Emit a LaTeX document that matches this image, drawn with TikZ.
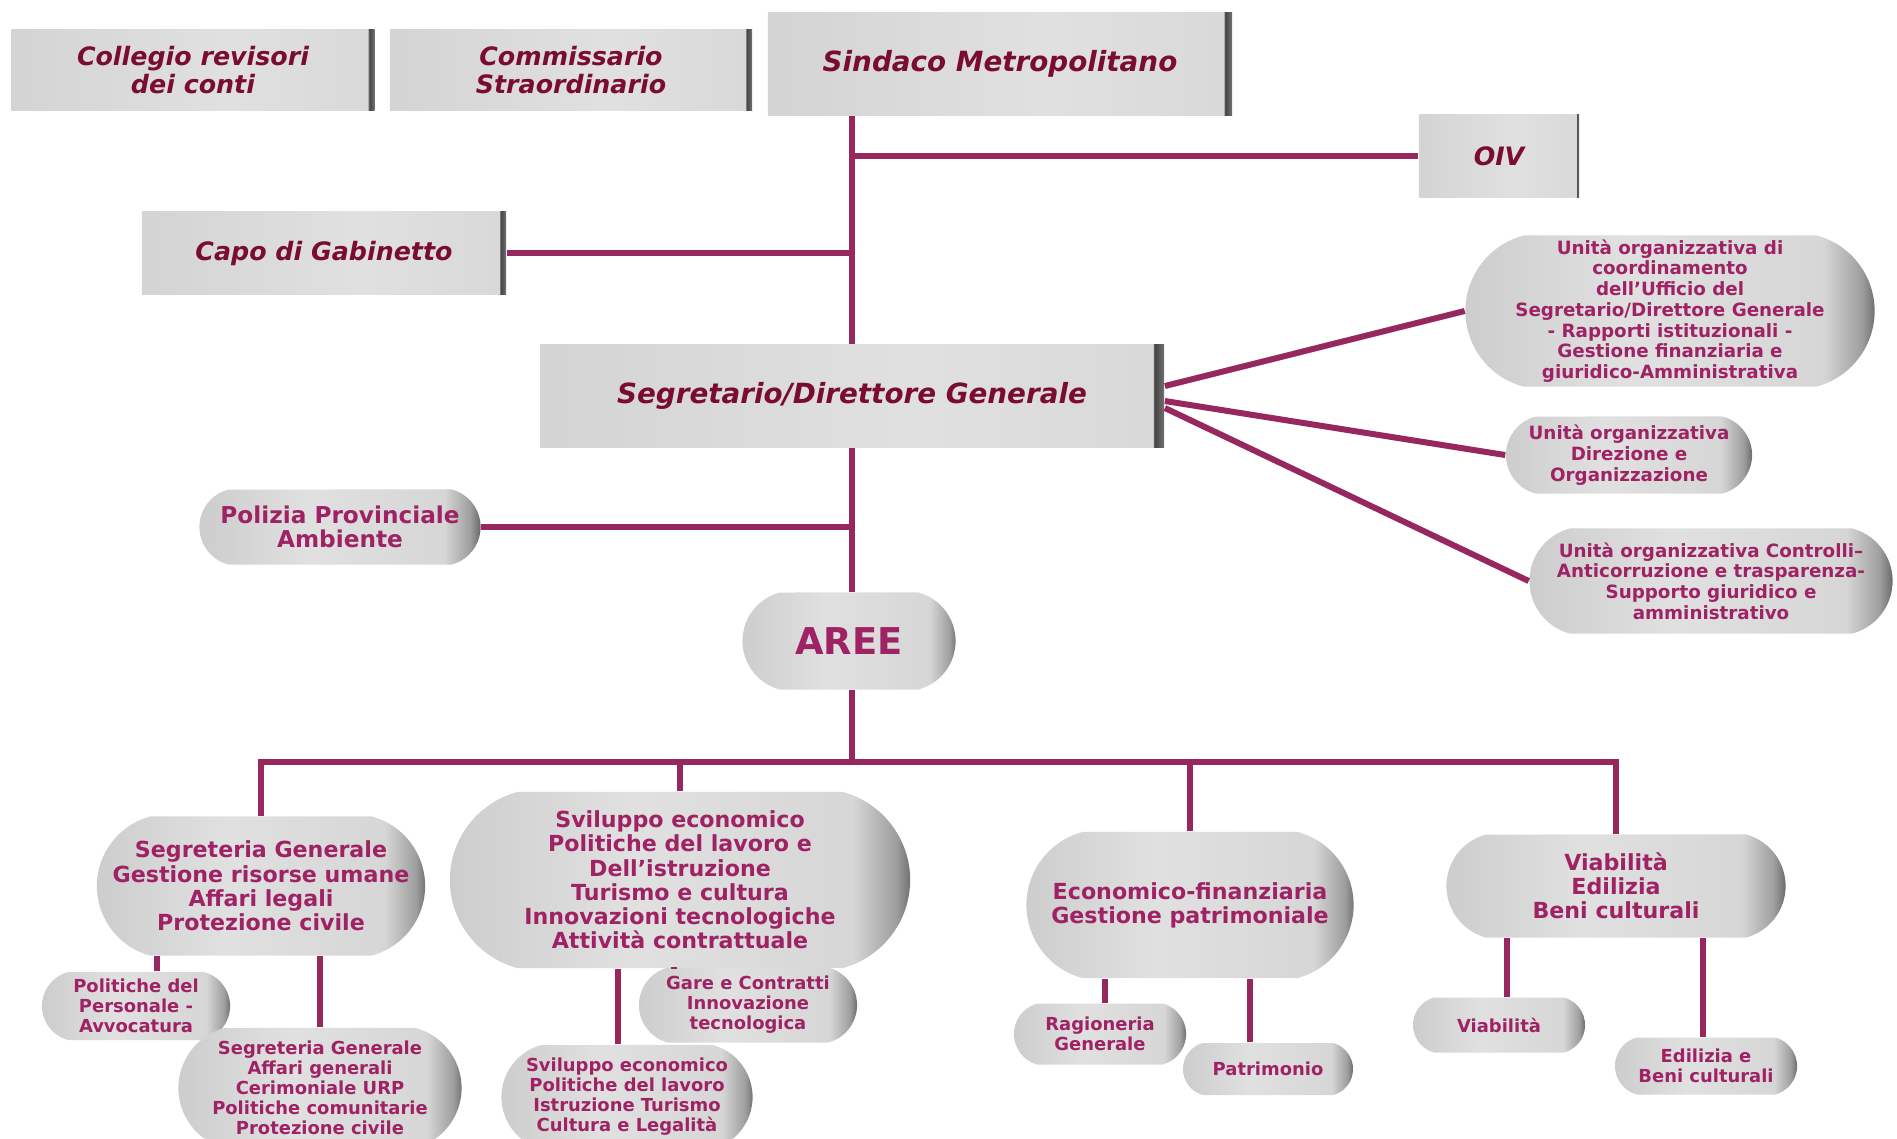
\documentclass[tikz,border=0pt]{standalone}
\usepackage{fontspec}
\setmainfont{DejaVu Sans}
\usetikzlibrary{positioning}
\usetikzlibrary{shapes.misc}
\usetikzlibrary{calc}

\definecolor{linecol}{RGB}{150,40,95}
\definecolor{boxtxt}{RGB}{122,12,48}
\definecolor{pilltxt}{RGB}{158,34,100}

\pgfdeclarehorizontalshading{boxshade}{100bp}{rgb(0bp)=(.83,.83,.83); rgb(25bp)=(.83,.83,.83); rgb(55bp)=(.88,.88,.88); rgb(74.1bp)=(.85,.85,.85); rgb(74.2bp)=(.25,.25,.25); rgb(75bp)=(.45,.45,.45); rgb(100bp)=(.45,.45,.45)}
\pgfdeclarehorizontalshading{pillshade}{100bp}{rgb(0bp)=(.80,.80,.80); rgb(25bp)=(.80,.80,.80); rgb(45bp)=(.88,.88,.88); rgb(68bp)=(.84,.84,.84); rgb(72.5bp)=(.62,.62,.62); rgb(75bp)=(.32,.32,.32); rgb(100bp)=(.32,.32,.32)}

\tikzstyle{boxnode}=[rectangle,shade,shading=boxshade,text=boxtxt,inner sep=0pt,align=center,font=\fontsize{7.2}{8.2}\selectfont\bfseries\itshape]
\tikzstyle{bigbox}=[font=\fontsize{7.9}{9}\selectfont\bfseries\itshape]
\tikzstyle{pillnode}=[rounded rectangle,rounded rectangle arc length=150,shade,shading=pillshade,text=pilltxt,inner sep=0pt,align=center]
\tikzstyle{unitpill}=[pillnode,font=\fontsize{5.2}{5.9}\selectfont\bfseries]
\tikzstyle{areapill}=[pillnode,font=\fontsize{6.3}{6.9}\selectfont\bfseries]
\tikzstyle{subpill}=[pillnode,font=\fontsize{5.1}{5.7}\selectfont\bfseries]
\tikzstyle{conn}=[draw=linecol,line width=0.6mm]

\begin{document}
\begin{tikzpicture}[x=0.01cm,y=-0.01cm]
  \useasboundingbox (0,0) rectangle (1897,1138);
  \clip (0,0) rectangle (1897,1138);

  % boxes
  \foreach \x/\y/\w/\h/\name/\label in {193/70/363/81/coll/{Collegio revisori\\dei conti}, 571/70/362/81/comm/{Commissario\\Straordinario}, 1499/156/160/82/oiv/{OIV}, 324/253/364/82/capo/{Capo di Gabinetto}}
          \node[boxnode, minimum width=\w*0.1mm, minimum height=\h*0.1mm] (\name) at (\x,\y) {\label};

  \node[boxnode, bigbox, minimum width=46.4mm, minimum height=10.3mm] (sind) at (1000,64) {Sindaco Metropolitano};
  \node[boxnode, bigbox, minimum width=62.4mm, minimum height=10.3mm] (segr) at (852,396) {Segretario/Direttore Generale};

  % units on the right
  \foreach \x/\y/\w/\h/\name/\label in {1670/311/409/151/u1/{Unità organizzativa di\\coordinamento\\dell'Ufficio del\\Segretario/Direttore Generale\\- Rapporti istituzionali -\\Gestione finanziaria e\\giuridico-Amministrativa}, 1629/455/246/77/u2/{Unità organizzativa\\Direzione e\\Organizzazione}, 1711/581/363/105/u3/{Unità organizzativa Controlli--\\Anticorruzione e trasparenza-\\Supporto giuridico e\\amministrativo}}
          \node[unitpill, minimum width=\w*0.1mm, minimum height=\h*0.1mm] (\name) at (\x,\y) {\label};

  \node[pillnode, font=\fontsize{6.6}{7}\selectfont\bfseries, minimum width=28.1mm, minimum height=7.5mm] (pol) at (340,527) {Polizia Provinciale\\Ambiente};
  \node[pillnode, font=\fontsize{10.5}{12}\selectfont\bfseries, minimum width=21.3mm, minimum height=9.7mm] (aree) at (849,641) {AREE};

  % aree
  \foreach \x/\y/\w/\h/\name/\label in {261/886/324/139/a1/{Segreteria Generale\\Gestione risorse umane\\Affari legali\\Protezione civile}, 680/880/460/176/a2/{Sviluppo economico\\Politiche del lavoro e\\Dell'istruzione\\Turismo e cultura\\Innovazioni tecnologiche\\Attività contrattuale}, 1190/905/327/146/a3/{Economico-finanziaria\\Gestione patrimoniale}, 1616/886/339/103/a4/{Viabilità\\Edilizia\\Beni culturali}}
          \node[areapill, minimum width=\w*0.1mm, minimum height=\h*0.1mm] (\name) at (\x,\y) {\label};

  \foreach \x/\y/\w/\h/\name/\label in {136/1006/188/68/s11/{Politiche del\\Personale -\\Avvocatura}, 320/1088/283/120/s12/{Segreteria Generale\\Affari generali\\Cerimoniale URP\\Politiche comunitarie\\Protezione civile}, 627/1097/251/104/s21/{Sviluppo economico\\Politiche del lavoro\\Istruzione Turismo\\Cultura e Legalità}, 748/1005/218/75/s22/{Gare e Contratti\\Innovazione\\tecnologica}, 1100/1034/172/61/s31/{Ragioneria\\Generale}, 1268/1069/170/52/s32/{Patrimonio}, 1499/1025/172/55/s41/{Viabilità}, 1706/1066/182/57/s42/{Edilizia e\\Beni culturali}}
          \node[subpill, minimum width=\w*0.1mm, minimum height=\h*0.1mm] (\name) at (\x,\y) {\label};

  % connectors
  \coordinate (hub) at (852,762);
  \draw[conn] (sind.south -| segr.north) -- (segr.north);
  \foreach \name in {oiv.west, capo.east}
         \draw[conn] (\name) -- (\name -| segr.north);
  \draw[conn] (segr.south) -- (segr.south |- aree.north);
  \draw[conn] (pol.east) -- (pol.east -| segr.south);
  \draw[conn] (segr.south |- aree.south) -- (hub);

  \foreach \dest/\dy in {u1/1, u2/-0.5, u3/-1.2}
         \draw[conn] ([yshift=\dy mm]segr.east) -- (\dest.west);

  \draw[conn] (a1.north) -- (a1.north |- hub) -- (a4.north |- hub) -- (a4.north);
  \foreach \name in {a2, a3}
         \draw[conn] (\name.north) -- (\name.north |- hub);

  \foreach \up/\down/\dx in {a1/s11/2.1, a1/s12/0, a2/s21/-0.9, a2/s22/-7.4, a3/s31/0.5, a3/s32/-1.8, a4/s41/0.8, a4/s42/-0.3}
         \draw[conn] ([xshift=\dx mm]\down.north) -- ([xshift=\dx mm]\down.north |- \up.south);

\end{tikzpicture}
\end{document}
